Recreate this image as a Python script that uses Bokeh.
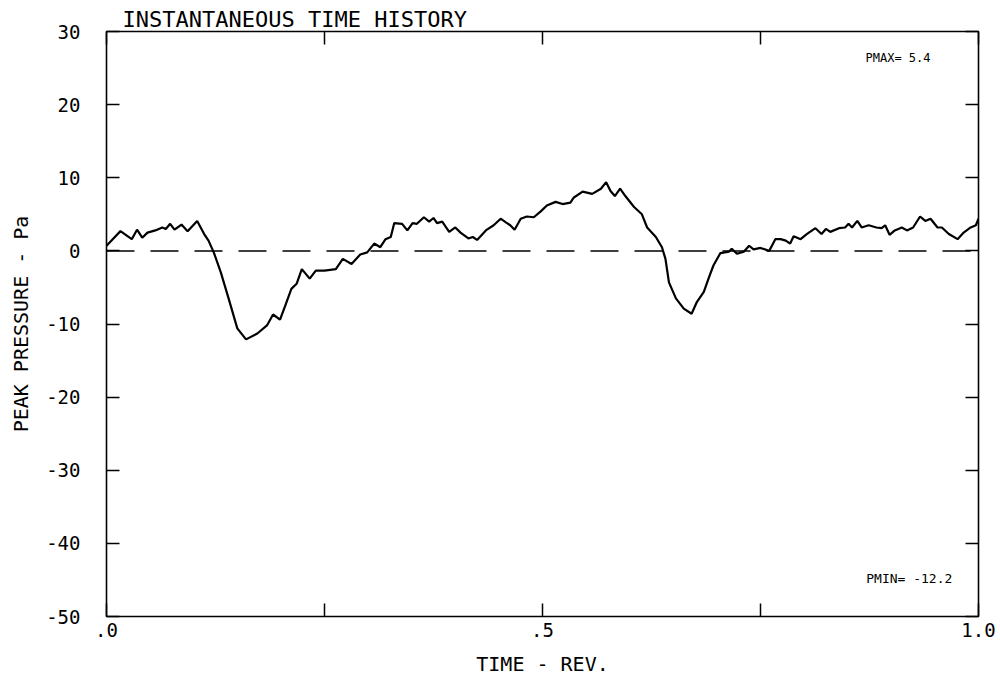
from bokeh.plotting import figure
from bokeh.models import LinearAxis, FixedTicker, Label, Span, Range1d
from bokeh.embed import file_html
from bokeh.resources import INLINE

# Instantaneous peak pressure over one revolution
time_rev = [
    0.000, 0.016, 0.029, 0.035, 0.041, 0.047, 0.056, 0.064, 0.068, 0.073,
    0.078, 0.086, 0.093, 0.104, 0.112, 0.117, 0.123, 0.131, 0.140, 0.150,
    0.160, 0.173, 0.184, 0.191, 0.199, 0.205, 0.212, 0.218, 0.224, 0.233,
    0.240, 0.250, 0.263, 0.271, 0.281, 0.291, 0.299, 0.307, 0.314, 0.320,
    0.326, 0.330, 0.339, 0.345, 0.351, 0.356, 0.364, 0.370, 0.375, 0.379,
    0.385, 0.393, 0.400, 0.406, 0.415, 0.420, 0.425, 0.435, 0.444, 0.452,
    0.458, 0.463, 0.468, 0.475, 0.482, 0.490, 0.498, 0.505, 0.515, 0.523,
    0.532, 0.536, 0.546, 0.557, 0.567, 0.573, 0.578, 0.583, 0.589, 0.595,
    0.605, 0.614, 0.620, 0.630, 0.637, 0.641, 0.645, 0.653, 0.662, 0.671,
    0.677, 0.685, 0.691, 0.696, 0.704, 0.714, 0.717, 0.723, 0.731, 0.737,
    0.742, 0.750, 0.760, 0.767, 0.773, 0.779, 0.784, 0.788, 0.796, 0.803,
    0.813, 0.820, 0.825, 0.830, 0.840, 0.847, 0.851, 0.855, 0.861, 0.866,
    0.874, 0.883, 0.889, 0.893, 0.898, 0.904, 0.912, 0.918, 0.925, 0.933,
    0.939, 0.945, 0.953, 0.958, 0.966, 0.976, 0.983, 0.991, 0.997, 1.000,
]
peak_pressure = [
    0.7, 2.7, 1.6, 2.9, 1.8, 2.5, 2.8, 3.2, 3.0, 3.7,
    2.9, 3.6, 2.7, 4.1, 2.3, 1.4, -0.2, -2.9, -6.5, -10.6,
    -12.1, -11.3, -10.2, -8.7, -9.4, -7.5, -5.2, -4.5, -2.5, -3.8,
    -2.7, -2.7, -2.5, -1.1, -1.8, -0.5, -0.2, 1.0, 0.5, 1.6,
    1.9, 3.8, 3.7, 2.8, 3.8, 3.7, 4.6, 4.0, 4.5, 3.8,
    4.0, 2.6, 3.2, 2.5, 1.7, 1.9, 1.5, 2.8, 3.5, 4.4,
    3.9, 3.5, 2.9, 4.4, 4.7, 4.6, 5.4, 6.2, 6.7, 6.4,
    6.6, 7.3, 8.1, 7.8, 8.5, 9.4, 8.2, 7.5, 8.5, 7.5,
    6.0, 5.0, 3.2, 1.9, 0.5, -1.1, -4.3, -6.5, -7.9, -8.6,
    -7.0, -5.6, -3.6, -2.0, -0.3, -0.1, 0.3, -0.4, -0.1, 0.7,
    0.2, 0.4, 0.0, 1.6, 1.6, 1.4, 1.0, 2.0, 1.6, 2.3,
    3.1, 2.3, 3.0, 2.6, 3.1, 3.2, 3.7, 3.2, 4.1, 3.2,
    3.5, 3.2, 3.1, 3.5, 2.2, 2.8, 3.2, 2.8, 3.2, 4.7,
    4.1, 4.4, 3.2, 3.2, 2.3, 1.6, 2.5, 3.2, 3.5, 4.4,
]

x_ticks = [0.0, 0.25, 0.5, 0.75, 1.0]
x_tick_labels = [".0", "", ".5", "", "1.0"]
y_ticks = [-50, -40, -30, -20, -10, 0, 10, 20, 30]
y_tick_labels = ["-50", "-40", "-30", "-20", "-10", "0", "10", "20", "30"]

title_text = "INSTANTANEOUS TIME HISTORY"
pmax_text = "PMAX= 5.4"
pmin_text = "PMIN= -12.2"

FONT = "DejaVu Sans Mono"

p = figure(
    width=1000, height=688,
    x_range=Range1d(0, 1), y_range=Range1d(-50, 30),
    output_backend="svg", toolbar_location=None,
    min_border_left=106, min_border_right=22,
    min_border_top=31, min_border_bottom=72,
    background_fill_color="white", border_fill_color="white",
)
p.grid.visible = False
p.outline_line_color = "black"
p.outline_line_width = 1.6

p.title.text = title_text
p.title.align = "left"
p.title.offset = 16
p.title.standoff = 0
p.title.text_font = FONT
p.title.text_font_size = "22px"
p.title.text_font_style = "normal"
p.title.text_color = "black"

x_over = {t: s for t, s in zip(x_ticks, x_tick_labels)}
y_over = {t: s for t, s in zip(y_ticks, y_tick_labels)}


def style_axis(ax, ticks, overrides, show_labels):
    ax.ticker = FixedTicker(ticks=ticks, minor_ticks=[])
    ax.major_tick_in = 13
    ax.major_tick_out = 0
    ax.minor_tick_in = 0
    ax.minor_tick_out = 0
    ax.major_tick_line_color = "black"
    ax.major_tick_line_width = 1.5
    ax.axis_line_color = None
    ax.major_label_overrides = overrides
    ax.major_label_text_font = FONT
    ax.major_label_text_font_size = "19px"
    ax.major_label_text_color = "black" if show_labels else None
    ax.axis_label_text_font = FONT
    ax.axis_label_text_font_style = "normal"
    ax.axis_label_text_font_size = "20px"
    ax.axis_label_text_color = "black"


style_axis(p.xaxis[0], x_ticks, x_over, True)
p.xaxis[0].major_label_standoff = 6
p.xaxis[0].axis_label = "TIME - REV."
p.xaxis[0].axis_label_standoff = 12

style_axis(p.yaxis[0], y_ticks, y_over, True)
p.yaxis[0].major_label_standoff = 26
p.yaxis[0].axis_label = "PEAK PRESSURE - Pa"
p.yaxis[0].axis_label_standoff = 10

top_axis = LinearAxis()
style_axis(top_axis, x_ticks, {t: "" for t in x_ticks}, False)
top_axis.major_label_standoff = 0
p.add_layout(top_axis, "above")

right_axis = LinearAxis()
style_axis(right_axis, y_ticks, {t: "" for t in y_ticks}, False)
right_axis.major_label_standoff = 0
p.add_layout(right_axis, "right")

# zero reference line
p.add_layout(Span(location=0, dimension="width", line_color="black",
                  line_width=1.5, line_dash="28 16"))

# pressure trace
p.line(time_rev, peak_pressure, line_color="black", line_width=2.2)

p.add_layout(Label(x=0.945, y=30, y_offset=-26, text=pmax_text,
                   text_font=FONT, text_font_size="12px",
                   text_baseline="middle", text_align="right",
                   text_color="black"))
p.add_layout(Label(x=0.97, y=-50, y_offset=38, text=pmin_text,
                   text_font=FONT, text_font_size="13px",
                   text_baseline="middle", text_align="right",
                   text_color="black"))

open("out.html", "w").write(file_html(p, INLINE))
